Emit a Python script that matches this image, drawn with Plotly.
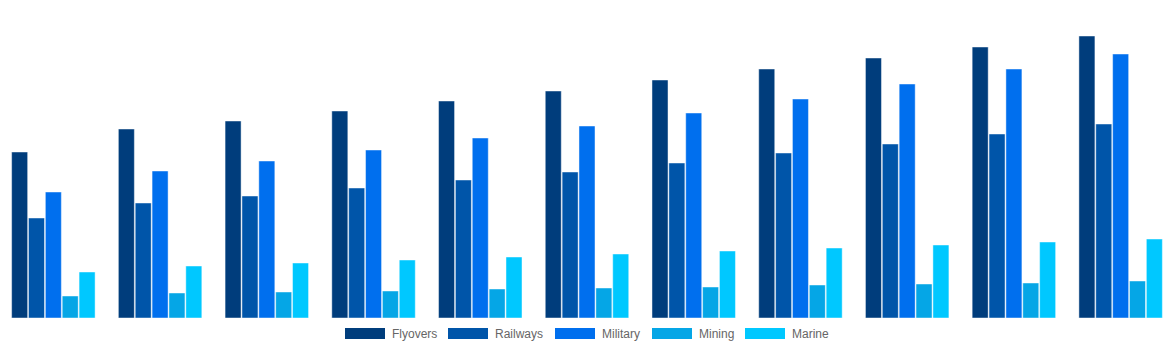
import plotly.graph_objects as go

categories = ["2014", "2015", "2016", "2017", "2018", "2019", "2020", "2021", "2022", "2023", "2024"]
series_names = ["Flyovers", "Railways", "Military", "Mining", "Marine"]
flyovers = [166, 189, 197, 207, 217, 227, 238, 249, 260, 271, 282]
railways = [100, 115, 122, 130, 138, 146, 155, 165, 174, 184, 194]
military = [126, 147, 157, 168, 180, 192, 205, 219, 234, 249, 264]
mining = [22, 25, 26, 27, 29, 30, 31, 33, 34, 35, 37]
marine = [46, 52, 55, 58, 61, 64, 67, 70, 73, 76, 79]
series_values = [flyovers, railways, military, mining, marine]
colors = ["#003d7c", "#0055a9", "#006fee", "#05a6e6", "#00c8ff"]

W, H = 1174, 350
plot_h = 318

fig = go.Figure()
for name, vals, col in zip(series_names, series_values, colors):
    fig.add_trace(go.Bar(
        x=categories, y=vals, name=name, showlegend=False,
        marker=dict(color=col, line=dict(color="rgba(255,255,255,0.45)", width=1)),
    ))

# custom legend with wide swatches
legend_x = [345, 448, 555, 652, 745]
sw_w, sw_top, sw_bot = 40, 328, 339
shapes, annots = [], []
for name, col, x0 in zip(series_names, colors, legend_x):
    shapes.append(dict(type="rect", xref="paper", yref="paper",
                       x0=x0 / W, x1=(x0 + sw_w) / W,
                       y0=(plot_h - sw_bot) / plot_h, y1=(plot_h - sw_top) / plot_h,
                       fillcolor=col, line=dict(width=0)))
    annots.append(dict(xref="paper", yref="paper", x=(x0 + sw_w + 5) / W,
                       y=(plot_h - 333.5) / plot_h, text=name, showarrow=False,
                       xanchor="left", yanchor="middle",
                       font=dict(family="Liberation Sans, Arial, sans-serif", size=12, color="#666666")))

fig.update_layout(
    width=W, height=H,
    margin=dict(l=0, r=0, t=0, b=H - plot_h),
    paper_bgcolor="white", plot_bgcolor="white",
    barmode="group", bargap=0.21, bargroupgap=0.05,
    xaxis=dict(visible=False),
    yaxis=dict(visible=False, range=[0, plot_h]),
    shapes=shapes, annotations=annots,
)
fig.write_html("out.html")
